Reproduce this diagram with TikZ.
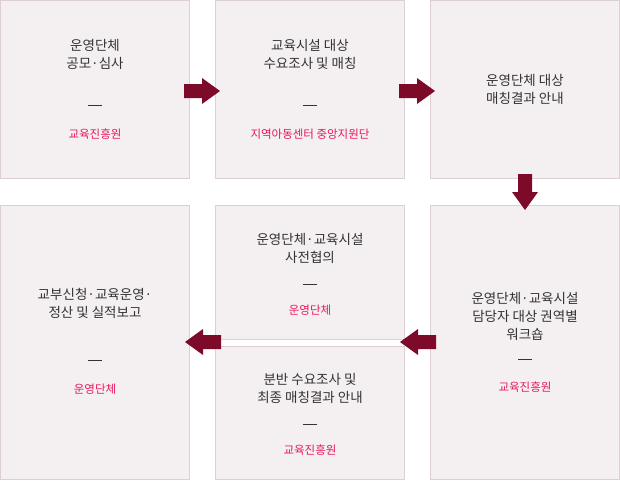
\documentclass[tikz,border=0pt]{standalone}
\usepackage{fontspec}
\newfontfamily\kr{Noto Sans CJK KR}
\definecolor{boxfill}{HTML}{F4F0F2}
\definecolor{boxline}{HTML}{DDD0D5}
\definecolor{arr}{HTML}{7D0A28}
\definecolor{redt}{HTML}{E8175D}
\definecolor{txt}{HTML}{333333}
\begin{document}
\begin{tikzpicture}[x=1pt,y=-1pt,
  box/.style={draw=boxline,fill=boxfill,line width=0.8pt},
  ttl/.style={font=\kr\fontsize{13.5}{18}\selectfont,text=txt,align=center},
  org/.style={font=\kr\fontsize{11.5}{14}\selectfont,text=redt,align=center},
  sepline/.style={draw=txt,line width=0.6pt},
  blk/.pic={\fill[arr] (-18,-7) -- (0,-7) -- (0,-13) -- (18,0) -- (0,13) -- (0,7) -- (-18,7) -- cycle;}]
\useasboundingbox (0,0) rectangle (620,480);
\fill[white] (0,0) rectangle (620,480);
% boxes
\draw[box] (0.5,0.5) rectangle (189.5,178);
\draw[box] (215.5,0.5) rectangle (404.5,178);
\draw[box] (430.5,0.5) rectangle (619.5,178);
\draw[box] (0.5,205.5) rectangle (189.5,479.5);
\draw[box] (215.5,205.5) rectangle (404.5,339);
\draw[box] (215.5,346) rectangle (404.5,479.5);
\draw[box] (430.5,205.5) rectangle (619.5,479.5);
% texts
\node[ttl] (t1) at (95,54) {운영단체\\공모·심사};
\draw[sepline] (88,105) -- (102,105);
\node[org] (o1) at (95,134) {교육진흥원};
\node[ttl] (t2) at (310,54) {교육시설 대상\\수요조사 및 매칭};
\draw[sepline] (303,105) -- (317,105);
\node[org] (o2) at (310,134) {지역아동센터 중앙지원단};
\node[ttl] (t3) at (525,89) {운영단체 대상\\매칭결과 안내};
\node[ttl] (t4) at (95,303) {교부신청·교육운영·\\정산 및 실적보고};
\draw[sepline] (88,360) -- (102,360);
\node[org] (o4) at (95,389) {운영단체};
\node[ttl] (t5) at (310,248) {운영단체·교육시설\\사전협의};
\draw[sepline] (303,284) -- (317,284);
\node[org] (o5) at (310,310) {운영단체};
\node[ttl] (t6) at (310,388) {분반 수요조사 및\\최종 매칭결과 안내};
\draw[sepline] (303,424) -- (317,424);
\node[org] (o6) at (310,450) {교육진흥원};
\node[ttl] (t7) at (525,316) {운영단체·교육시설\\담당자 대상 권역별\\워크숍};
\draw[sepline] (518,359) -- (532,359);
\node[org] (o7) at (525,387) {교육진흥원};
% arrows
\pic at (202,91) {blk};
\pic at (417,91) {blk};
\pic[rotate=-90] at (525,192) {blk};
\pic[rotate=180] at (418,342) {blk};
\pic[rotate=180] at (203,342) {blk};
\end{tikzpicture}
\end{document}
